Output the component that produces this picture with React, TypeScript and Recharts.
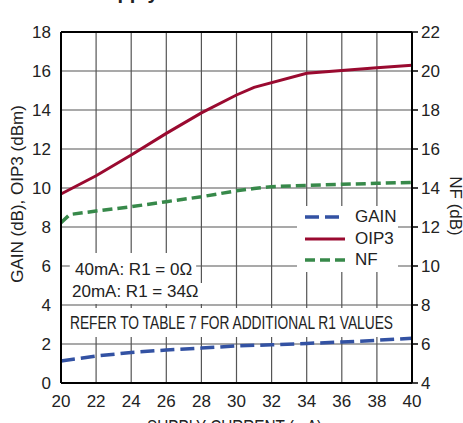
import {
  CartesianGrid,
  Legend,
  Line,
  LineChart,
  ReferenceArea,
  ReferenceLine,
  XAxis,
  YAxis,
} from 'recharts'

const currentTicks = [20, 22, 24, 26, 28, 30, 32, 34, 36, 38, 40]
const leftTicks = [0, 2, 4, 6, 8, 10, 12, 14, 16, 18]
const rightTicks = [4, 6, 8, 10, 12, 14, 16, 18, 20, 22]

const gainCurrent = [20, 22, 24, 26, 28, 30, 32, 34, 36, 38, 40]
const gainValues = [1.13, 1.38, 1.57, 1.69, 1.79, 1.9, 1.96, 2.03, 2.1, 2.19, 2.29]

const oip3Current = [20, 22, 24, 26, 28, 30, 31, 34, 36, 38, 40]
const oip3Values = [9.69, 10.63, 11.69, 12.8, 13.85, 14.77, 15.16, 15.88, 16.02, 16.17, 16.3]

const nfCurrent = [20, 20.5, 22, 24, 26, 28, 30, 31, 32, 34, 36, 38, 40]
const nfValues = [12.22, 12.64, 12.82, 13.04, 13.3, 13.55, 13.86, 13.97, 14.07, 14.13, 14.19, 14.24, 14.29]

const font = '"Liberation Sans", Arial, sans-serif'
const ink = '#222'

const toPoints = (xs: number[], ys: number[]) => xs.map((current, i) => ({ current, value: ys[i] }))

const series = [
  { name: 'GAIN', color: '#3352a3', dash: '14 6', width: 3.5, axis: 'left', data: toPoints(gainCurrent, gainValues) },
  { name: 'OIP3', color: '#9a0a30', dash: undefined, width: 3, axis: 'left', data: toPoints(oip3Current, oip3Values) },
  { name: 'NF', color: '#37894a', dash: '10 5', width: 3.5, axis: 'right', data: toPoints(nfCurrent, nfValues) },
]

const tickStyle = { fill: ink, fontSize: 17, fontFamily: font }

function LegendBox() {
  return (
    <div style={{ fontFamily: font, fontSize: 17, color: ink }}>
      {series.map((s) => (
        <div key={s.name} style={{ display: 'flex', alignItems: 'center', height: 21.7 }}>
          <svg width={58} height={10}>
            <line x1={8} y1={5} x2={48} y2={5} stroke={s.color} strokeWidth={s.width} strokeDasharray={s.dash} />
          </svg>
          <span>{s.name}</span>
        </div>
      ))}
    </div>
  )
}

type BoxLine = { text: string; x: number; y: number; size?: number; length?: number }

function boxText(lines: BoxLine[]) {
  return () => (
    <g>
      {lines.map((l) => (
        <text
          key={l.text}
          x={l.x}
          y={l.y}
          fill={ink}
          fontSize={l.size ?? 17}
          fontFamily={font}
          textLength={l.length}
          lengthAdjust={l.length ? 'spacingAndGlyphs' : undefined}
        >
          {l.text}
        </text>
      ))}
    </g>
  )
}

export default function App() {
  return (
    <div style={{ position: 'absolute', left: 0, top: 0, width: 463, height: 423, overflow: 'hidden', background: '#fff' }}>
      <div
        style={{
          position: 'absolute',
          left: 92,
          top: -18,
          fontFamily: font,
          fontSize: 20,
          lineHeight: '20px',
          fontWeight: 'bold',
          color: ink,
        }}
      >
        Supply Current
      </div>
      <LineChart width={463} height={423} margin={{ top: 32, right: 0, bottom: 0, left: 0 }}>
        <CartesianGrid stroke="#555" strokeWidth={1.2} yAxisId="left" />
        <XAxis
          dataKey="current"
          type="number"
          domain={[20, 40]}
          ticks={currentTicks}
          height={40}
          tick={tickStyle}
          tickLine={false}
          tickSize={0}
          tickMargin={12}
          axisLine={{ stroke: '#000', strokeWidth: 2 }}
          label={{
            content: () => (
              <text x={147} y={433} fill={ink} fontSize={18} fontFamily={font} textLength={175} lengthAdjust="spacingAndGlyphs">
                SUPPLY CURRENT (mA)
              </text>
            ),
          }}
        />
        <YAxis
          yAxisId="left"
          domain={[0, 18]}
          ticks={leftTicks}
          width={61}
          tick={tickStyle}
          tickLine={false}
          tickSize={0}
          tickMargin={10}
          axisLine={{ stroke: '#000', strokeWidth: 2 }}
          label={{
            content: () => (
              <text x={17} y={194} transform="rotate(-90 17 194)" textAnchor="middle" dominantBaseline="central" fill={ink} fontSize={17} fontFamily={font}>
                GAIN (dB), OIP3 (dBm)
              </text>
            ),
          }}
        />
        <YAxis
          yAxisId="right"
          orientation="right"
          domain={[4, 22]}
          ticks={rightTicks}
          width={51}
          tick={tickStyle}
          tickSize={6}
          tickMargin={3}
          tickLine={{ stroke: '#000', strokeWidth: 1.5 }}
          axisLine={{ stroke: '#000', strokeWidth: 2 }}
          label={{
            content: () => (
              <text x={455} y={206} transform="rotate(90 455 206)" textAnchor="middle" dominantBaseline="central" fill={ink} fontSize={17} fontFamily={font}>
                NF (dB)
              </text>
            ),
          }}
        />
        <ReferenceLine yAxisId="left" y={18} stroke="#000" strokeWidth={2} />
        <ReferenceArea
          yAxisId="left"
          x1={20.06}
          x2={39.94}
          y1={2.36}
          y2={3.85}
          fill="#fff"
          fillOpacity={1}
          stroke="none"
          label={{ content: boxText([{ text: 'REFER TO TABLE 7 FOR ADDITIONAL R1 VALUES', x: 70, y: 329, size: 18.5, length: 323 }]) }}
        />
        <ReferenceArea
          yAxisId="left"
          x1={20.5}
          x2={27.7}
          y1={5.13}
          y2={6.67}
          fill="#fff"
          fillOpacity={1}
          stroke="none"
          label={{ content: boxText([{ text: '40mA: R1 = 0Ω', x: 75, y: 275 }]) }}
        />
        <ReferenceArea
          yAxisId="left"
          x1={20.06}
          x2={28.2}
          y1={4.05}
          y2={5.13}
          fill="#fff"
          fillOpacity={1}
          stroke="none"
          label={{ content: boxText([{ text: '20mA: R1 = 34Ω', x: 72, y: 297 }]) }}
        />
        {series.map((s) => (
          <Line
            key={s.name}
            yAxisId={s.axis}
            data={s.data}
            dataKey="value"
            name={s.name}
            type="linear"
            stroke={s.color}
            strokeWidth={s.width}
            strokeDasharray={s.dash}
            dot={false}
            activeDot={false}
            isAnimationActive={false}
          />
        ))}
        <Legend
          layout="vertical"
          align="center"
          verticalAlign="middle"
          content={() => <LegendBox />}
          wrapperStyle={{ left: 297, top: 206, width: 101, height: 66, background: '#fff' }}
        />
      </LineChart>
    </div>
  )
}
